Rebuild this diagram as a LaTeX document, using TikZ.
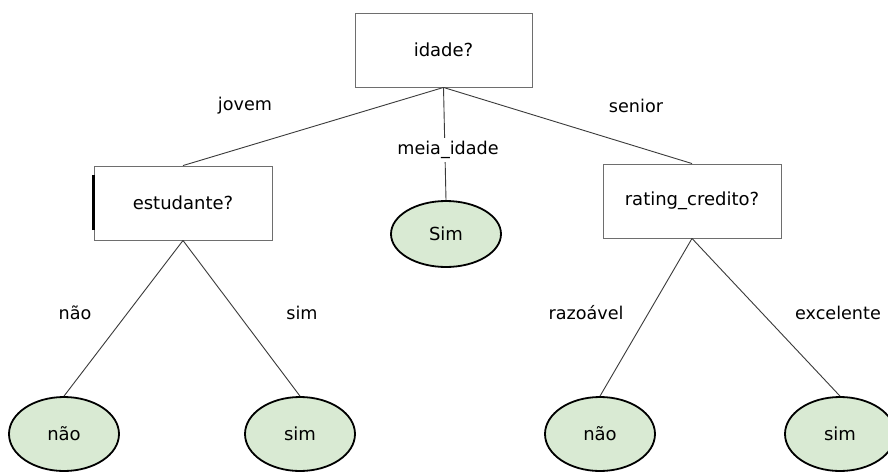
\documentclass[tikz,border=0pt]{standalone}
\usepackage{fontspec}
\setmainfont{DejaVu Sans}
\usetikzlibrary{shapes.geometric}
\definecolor{leafgreen}{HTML}{D9EAD3}
\definecolor{boxline}{HTML}{6E6E6E}
\definecolor{edgegray}{HTML}{3A3A3A}
\tikzset{
  question/.style={draw=boxline, line width=0.9pt, rectangle, minimum width=177pt, minimum height=74pt, inner sep=0pt, font=\fontsize{18}{20}\selectfont},
  leaf/.style={draw=black, line width=1.8pt, ellipse, fill=leafgreen, minimum width=110pt, minimum height=74pt, inner sep=0pt, font=\fontsize{18}{20}\selectfont},
  edge/.style={draw=edgegray, line width=0.9pt},
  branch/.style={font=\fontsize{17.6}{20}\selectfont, inner sep=0pt}
}
\begin{document}
\begin{tikzpicture}[x=1pt, y=-1pt]
  \clip (0,0) rectangle (888,471);
  \fill[white] (0,0) rectangle (888,471);

  % question nodes
  \node[question] (idade) at (443.5,50) {idade?};
  \node[question, minimum width=178pt] (estudante) at (183,203) {estudante?};
  \node[question, minimum width=178pt] (rating) at (692,201) {rating\_credito?};

  % leaves
  \node[leaf, minimum height=66pt] (simmeio) at (446,234) {Sim};
  \node[leaf] (nao1) at (64,434) {não};
  \node[leaf] (sim1) at (300,434) {sim};
  \node[leaf] (nao2) at (600,434) {não};
  \node[leaf] (sim2) at (840,434) {sim};

  % accent on the left side of the student box
  \draw[black, line width=2.4pt] ([yshift=-27pt]estudante.west) -- ([yshift=28pt]estudante.west);

  % branches
  \draw[edge] (idade.south) -- (estudante.north);
  \draw[edge] (idade.south) -- (simmeio.north);
  \draw[edge] (idade.south) -- (rating.north);
  \draw[edge] (estudante.south) -- (nao1.north);
  \draw[edge] (estudante.south) -- (sim1.north);
  \draw[edge] (rating.south) -- (nao2.north);
  \draw[edge] (rating.south) -- (sim2.north);

  % branch labels
  \node[branch] (ljovem) at (245,106) {jovem};
  \node[branch, fill=white, inner sep=3pt] (lmeia) at (448,150) {meia\_idade};
  \node[branch] (lsenior) at (636,106) {senior};
  \node[branch] (lnao1) at (75,313) {não};
  \node[branch] (lsim1) at (302,313) {sim};
  \node[branch] (lraz) at (586,313) {razoável};
  \node[branch] (lexc) at (838,313) {excelente};
\end{tikzpicture}
\end{document}
